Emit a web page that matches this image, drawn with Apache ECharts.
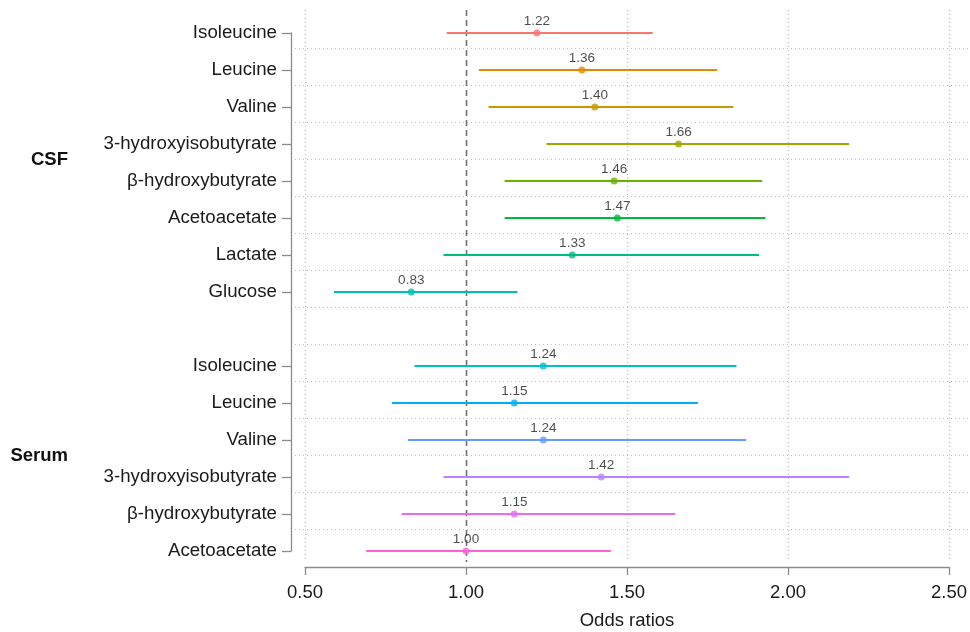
<!DOCTYPE html>
<html>
<head>
<meta charset="utf-8">
<script src="https://cdn.jsdelivr.net/npm/echarts@6/dist/echarts.min.js"></script>
<style>
html,body{margin:0;padding:0;background:#fff;}
#chart{width:970px;height:632px;}
</style>
</head>
<body>
<div id="chart"></div>
<script>
// ---- data ----
const rowLabels = ['Isoleucine','Leucine','Valine','3-hydroxyisobutyrate','β-hydroxybutyrate','Acetoacetate','Lactate','Glucose','',
                   'Isoleucine','Leucine','Valine','3-hydroxyisobutyrate','β-hydroxybutyrate','Acetoacetate'];
const estimates = [1.22,1.36,1.40,1.66,1.46,1.47,1.33,0.83,null,1.24,1.15,1.24,1.42,1.15,1.00];
const lowerCI   = [0.94,1.04,1.07,1.25,1.12,1.12,0.93,0.59,null,0.84,0.77,0.82,0.93,0.80,0.69];
const upperCI   = [1.58,1.78,1.83,2.19,1.92,1.93,1.91,1.16,null,1.84,1.72,1.87,2.19,1.65,1.45];
const rowColors = ['#F8766D','#E38900','#C99800','#A3A500','#6BB100','#00BA38','#00BF7D','#00C0AF','#00BCD8',
                   '#00BCD8','#00B0F6','#619CFF','#B983FF','#E76BF3','#FD61D1'];
const groups = [{name:'CSF', first:0, last:7},{name:'Serum', first:9, last:14}];
const xTicks = [0.5, 1.0, 1.5, 2.0, 2.5];
const refValue = 1.0;

const chart = echarts.init(document.getElementById('chart'), null, {renderer:'canvas'});
const FONT = 'Liberation Sans, Arial, sans-serif';
const AXIS_GRAY = '#8c8c8c';
const GRID_GRAY = '#bdbdbd';
const TXT = '#1a1a1a';

const rowIdx = rowLabels.map((_, i) => i);
const dataRows = rowIdx.filter(i => estimates[i] != null);

const option = {
  animation: false,
  backgroundColor: '#fff',
  grid: {left: 305, right: 21, top: 33, bottom: 81, containLabel: false, outerBoundsMode: 'none'},
  xAxis: {
    type: 'value', min: 0.5, max: 2.5, interval: 0.5,
    offset: 16,
    axisLine: {show: true, lineStyle: {color: AXIS_GRAY, width: 1.3}},
    axisTick: {show: true, length: 8, lineStyle: {color: AXIS_GRAY, width: 1.3}},
    axisLabel: {formatter: v => v.toFixed(2), fontSize: 18.5, color: TXT, fontFamily: FONT, margin: 16},
    splitLine: {show: false},
    name: 'Odds ratios', nameLocation: 'middle', nameGap: 44,
    nameTextStyle: {fontSize: 18.5, color: TXT, fontFamily: FONT}
  },
  yAxis: {
    type: 'category', data: rowLabels, inverse: true, boundaryGap: false,
    offset: 14,
    axisLine: {show: true, lineStyle: {color: AXIS_GRAY, width: 1.3}},
    axisTick: {show: true, length: 9, interval: (i, v) => v !== '', lineStyle: {color: AXIS_GRAY, width: 1.3}},
    axisLabel: {interval: 0, fontSize: 18.7, color: TXT, fontFamily: FONT, margin: 14},
    splitLine: {show: false}
  },
  series: [
    // horizontal dotted grid lines between rows
    {
      type: 'custom', z: 1, silent: true,
      data: rowIdx.slice(0, rowIdx.length - 1),
      renderItem: (params, api) => {
        const k = api.value(0);
        const y0 = api.coord([0.5, k])[1];
        const y1 = api.coord([0.5, k + 1])[1];
        const y = Math.round(y0 + (y1 - y0) * 15 / 37) + 0.5;
        const x0 = api.coord([0.5, k])[0] - 10;
        return {type: 'line', shape: {x1: x0, y1: y, x2: api.getWidth(), y2: y},
                style: {stroke: GRID_GRAY, lineWidth: 1.2, lineDash: [1, 3]}};
      }
    },
    // vertical dotted grid lines
    {
      type: 'custom', z: 1, silent: true,
      data: xTicks.filter(v => v !== refValue).map(v => [v]),
      renderItem: (params, api) => {
        const x = Math.round(api.coord([api.value(0), 0])[0]) + 0.5;
        const yTop = api.coord([0.5, 0])[1] - 23;
        const yBot = api.coord([0.5, rowLabels.length - 1])[1] + 11;
        return {type: 'line', shape: {x1: x, y1: yTop, x2: x, y2: yBot},
                style: {stroke: GRID_GRAY, lineWidth: 1.2, lineDash: [1, 3]}};
      }
    },
    // reference dashed line
    {
      type: 'custom', z: 2, silent: true,
      data: [[refValue]],
      renderItem: (params, api) => {
        const x = Math.round(api.coord([api.value(0), 0])[0]) + 0.5;
        const yTop = api.coord([0.5, 0])[1] - 23;
        const yBot = api.coord([0.5, rowLabels.length - 1])[1] + 11;
        return {type: 'line', shape: {x1: x, y1: yTop, x2: x, y2: yBot},
                style: {stroke: '#707070', lineWidth: 1.6, lineDash: [6, 4]}};
      }
    },
    // group labels
    {
      type: 'custom', z: 3, silent: true,
      data: groups.map(g => [g.first, g.last]),
      renderItem: (params, api) => {
        const g = groups[params.dataIndex];
        const yA = api.coord([0.5, api.value(0)])[1];
        const yB = api.coord([0.5, api.value(1)])[1];
        return {type: 'text', x: 68, y: (yA + yB) / 2 - 3,
                style: {text: g.name, fontSize: 18.5, fontWeight: 'bold', fill: '#111', fontFamily: FONT,
                        align: 'right', verticalAlign: 'middle'}};
      }
    },
    // confidence interval bars
    {
      type: 'custom', z: 4, silent: true,
      data: dataRows.map(i => [lowerCI[i], upperCI[i], i]),
      renderItem: (params, api) => {
        const i = api.value(2);
        const p1 = api.coord([api.value(0), i]);
        const p2 = api.coord([api.value(1), i]);
        return {type: 'line', shape: {x1: p1[0], y1: p1[1], x2: p2[0], y2: p2[1]},
                style: {stroke: rowColors[i], lineWidth: 2}};
      }
    },
    // point estimates
    {
      type: 'scatter', z: 5, symbol: 'circle', symbolSize: 7,
      data: dataRows.map(i => ({value: [estimates[i], i], itemStyle: {color: rowColors[i]}})),
      label: {show: true, position: 'top', distance: 1, fontSize: 13.5, color: '#1e1e1e', fontFamily: FONT,
              formatter: p => p.value[0].toFixed(2)}
    }
  ]
};
chart.setOption(option);
</script>
</body>
</html>
